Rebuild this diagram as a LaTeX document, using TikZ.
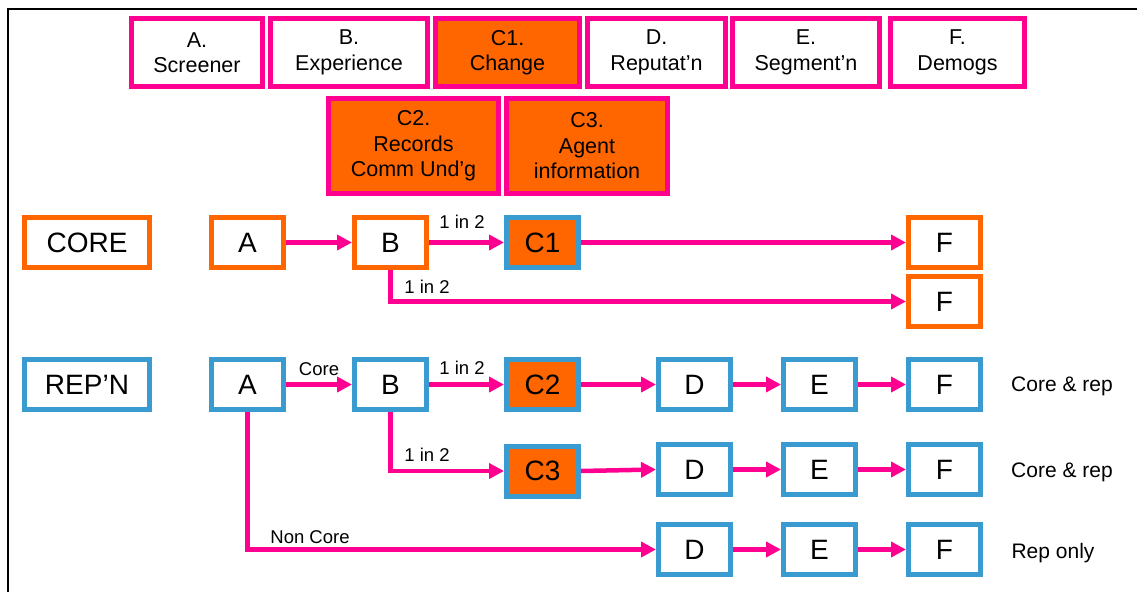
\documentclass[tikz,border=0pt]{standalone}
\usepackage{fontspec}
\setmainfont{Liberation Sans}
\usetikzlibrary{arrows.meta}
\definecolor{pk}{RGB}{255,0,144}
\definecolor{orn}{RGB}{255,102,0}
\definecolor{blu}{RGB}{58,155,208}
\tikzset{
  topbox/.style={draw=pk, line width=5pt, inner sep=0pt, align=center, minimum height=68pt, font=\fontsize{21.5}{25.5}\selectfont},
  subbox/.style={topbox, minimum height=95pt},
  hot/.style={fill=orn},
  flowbox/.style={line width=5pt, inner sep=0pt, minimum width=72pt, minimum height=50pt, font=\fontsize{28}{30}\selectfont},
  corebox/.style={flowbox, draw=orn},
  repbox/.style={flowbox, draw=blu},
  rowlab/.style={flowbox, minimum width=125pt},
  conn/.style={draw=pk, line width=4.5pt, -{Triangle[length=15pt,width=15pt]}},
  small/.style={font=\fontsize{18.5}{20}\selectfont, inner sep=0pt},
  side/.style={font=\fontsize{21}{24}\selectfont, inner sep=0pt}
}
\begin{document}
\begin{tikzpicture}[x=1pt,y=-1pt]
\useasboundingbox (0,0) rectangle (1137,592);
\draw[line width=2pt] (8,592) -- (8,9) -- (1137,9);
% top legend
\node[topbox, minimum width=131pt] (tA) at (197,52.5) {A.\\Screener};
\node[topbox, minimum width=157pt] (tB) at (349,52.5) {B.\\Experience};
\node[topbox, hot, minimum width=144pt] (tC1) at (507.5,52.5) {C1.\\Change};
\node[topbox, minimum width=138pt] (tD) at (656.5,52.5) {D.\\Reputat’n};
\node[topbox, minimum width=147pt] (tE) at (806,52.5) {E.\\Segment’n};
\node[topbox, minimum width=134pt] (tF) at (957.5,52.5) {F.\\Demogs};
\node[subbox, hot, minimum width=170pt] (tC2) at (413.5,146) {C2.\\Records\\Comm Und’g};
\node[subbox, hot, minimum width=161pt] (tC3) at (587,146) {C3.\\Agent\\information};
% row labels
\node[rowlab, draw=orn] (core) at (87,242.5) {CORE};
\node[rowlab, draw=blu] (rep) at (87,384.5) {REP’N};
% core row
\node[corebox] (A1) at (247.5,242.5) {A};
\node[corebox] (B1) at (390.5,242.5) {B};
\node[repbox, hot] (C1) at (542.5,242.5) {C1};
\node[corebox] (F1) at (944.5,242.5) {F};
\node[corebox] (F1b) at (944.5,301.5) {F};
% rep rows
\node[repbox] (A2) at (247.5,384.5) {A};
\node[repbox] (B2) at (390.5,384.5) {B};
\node[repbox, hot] (C2) at (542.5,384.5) {C2};
\node[repbox] (D2) at (694.5,384.5) {D};
\node[repbox] (E2) at (819.5,384.5) {E};
\node[repbox] (F2) at (944.5,384.5) {F};
\node[repbox, hot] (C3) at (542.5,471) {C3};
\node[repbox] (D3) at (694.5,469.5) {D};
\node[repbox] (E3) at (819.5,469.5) {E};
\node[repbox] (F3) at (944.5,469.5) {F};
\node[repbox] (D4) at (694.5,549.5) {D};
\node[repbox] (E4) at (819.5,549.5) {E};
\node[repbox] (F4) at (944.5,549.5) {F};
% side labels
\node[side] (s2) at (1062,386) {Core \& rep};
\node[side] (s3) at (1062,472) {Core \& rep};
\node[side] (s4) at (1053,553) {Rep only};
% connectors
\draw[conn] (A1) -- (B1);
\draw[conn] (B1) -- (C1);
\draw[conn] (C1) -- (F1);
\draw[conn] (B1.south) |- (F1b.west);
\draw[conn] (A2) -- (B2);
\draw[conn] (B2) -- (C2);
\draw[conn] (C2) -- (D2);
\draw[conn] (D2) -- (E2);
\draw[conn] (E2) -- (F2);
\draw[conn] (B2.south) |- (C3.west);
\draw[conn] (C3.east) -- (D3.west);
\draw[conn] (D3) -- (E3);
\draw[conn] (E3) -- (F3);
\draw[conn] (A2.south) |- (D4.west);
\draw[conn] (D4) -- (E4);
\draw[conn] (E4) -- (F4);
% connector labels
\node[small] (l1) at (462,222) {1 in 2};
\node[small] (l2) at (427,287) {1 in 2};
\node[small] (l3) at (319,369) {Core};
\node[small] (l4) at (462,368) {1 in 2};
\node[small] (l5) at (427,455) {1 in 2};
\node[small] (l6) at (310,537) {Non Core};
\end{tikzpicture}
\end{document}
